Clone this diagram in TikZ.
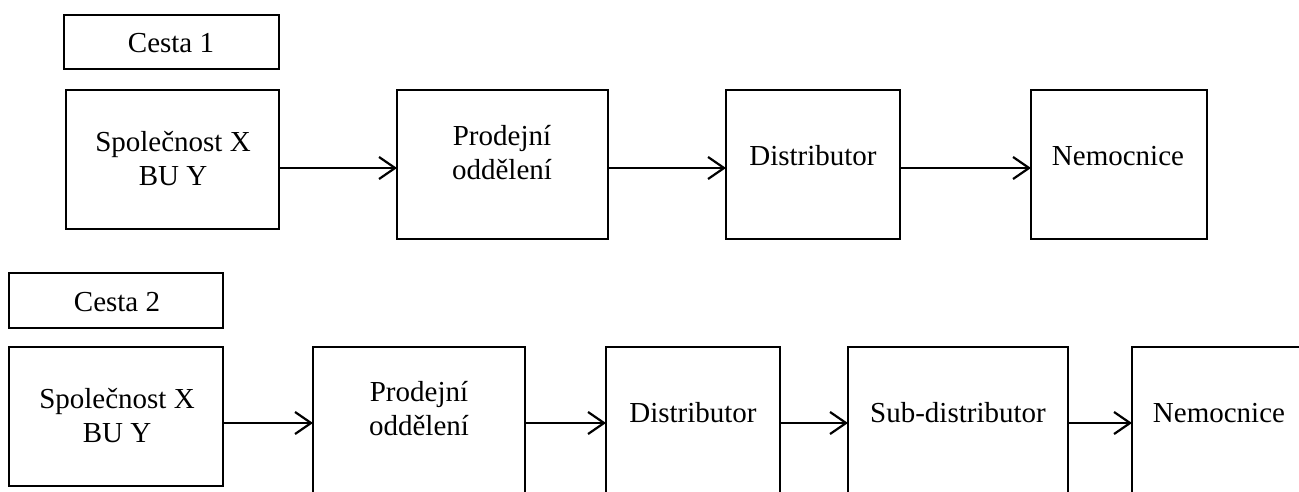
\documentclass[tikz,border=0pt]{standalone}
\usepackage{fontspec}
\setmainfont{Liberation Serif}
\usetikzlibrary{arrows.meta}
\begin{document}
\begin{tikzpicture}[x=1pt,y=-1pt,
  box/.style={draw, line width=2.2pt, inner sep=0pt, outer sep=0pt, anchor=north west},
  lbl/.style={font=\fontsize{29}{33.5}\selectfont, align=center, anchor=base, inner sep=0pt},
  flow/.style={line width=2.2pt, -{Straight Barb[length=16pt,width=22pt]}}]
\useasboundingbox (0,0) rectangle (1299,491);
\clip (0,0) rectangle (1299,491);

% route 1
\node[box, minimum width=215, minimum height=54]  (c1) at (64,15)   {};
\node[box, minimum width=213, minimum height=139] (s1) at (66,90)   {};
\node[box, minimum width=211, minimum height=149] (p1) at (397,90)  {};
\node[box, minimum width=174, minimum height=149] (d1) at (726,90)  {};
\node[box, minimum width=176, minimum height=149] (n1) at (1031,90) {};

% labels sit on the baseline of their last line
\node[lbl] (c1t) at (171,52.5) {Cesta 1};
\node[lbl] (s1t) at (173,185)  {Společnost X\\BU Y};
\node[lbl] (p1t) at (502,179)  {Prodejní\\oddělení};
\node[lbl] (d1t) at (813,165)  {Distributor};
\node[lbl] (n1t) at (1118,165) {Nemocnice};

\coordinate (r1) at (0,168);
\draw[flow] (s1.east |- r1) -- (p1.west |- r1);
\draw[flow] (p1.east |- r1) -- (d1.west |- r1);
\draw[flow] (d1.east |- r1) -- (n1.west |- r1);

% route 2
\node[box, minimum width=214, minimum height=55]  (c2)  at (9,273)    {};
\node[box, minimum width=214, minimum height=139] (s2)  at (9,347)    {};
\node[box, minimum width=212, minimum height=149] (p2)  at (313,347)  {};
\node[box, minimum width=174, minimum height=149] (d2)  at (606,347)  {};
\node[box, minimum width=220, minimum height=149] (sd2) at (848,347)  {};
\node[box, minimum width=174, minimum height=149] (n2)  at (1132,347) {};

\node[lbl] (c2t)  at (117,311)  {Cesta 2};
\node[lbl] (s2t)  at (117,442)  {Společnost X\\BU Y};
\node[lbl] (p2t)  at (419,435)  {Prodejní\\oddělení};
\node[lbl] (d2t)  at (693,422)  {Distributor};
\node[lbl] (sd2t) at (958,422)  {Sub-distributor};
\node[lbl] (n2t)  at (1219,422) {Nemocnice};

\coordinate (r2) at (0,423);
\draw[flow] (s2.east |- r2)  -- (p2.west |- r2);
\draw[flow] (p2.east |- r2)  -- (d2.west |- r2);
\draw[flow] (d2.east |- r2)  -- (sd2.west |- r2);
\draw[flow] (sd2.east |- r2) -- (n2.west |- r2);
\end{tikzpicture}
\end{document}
